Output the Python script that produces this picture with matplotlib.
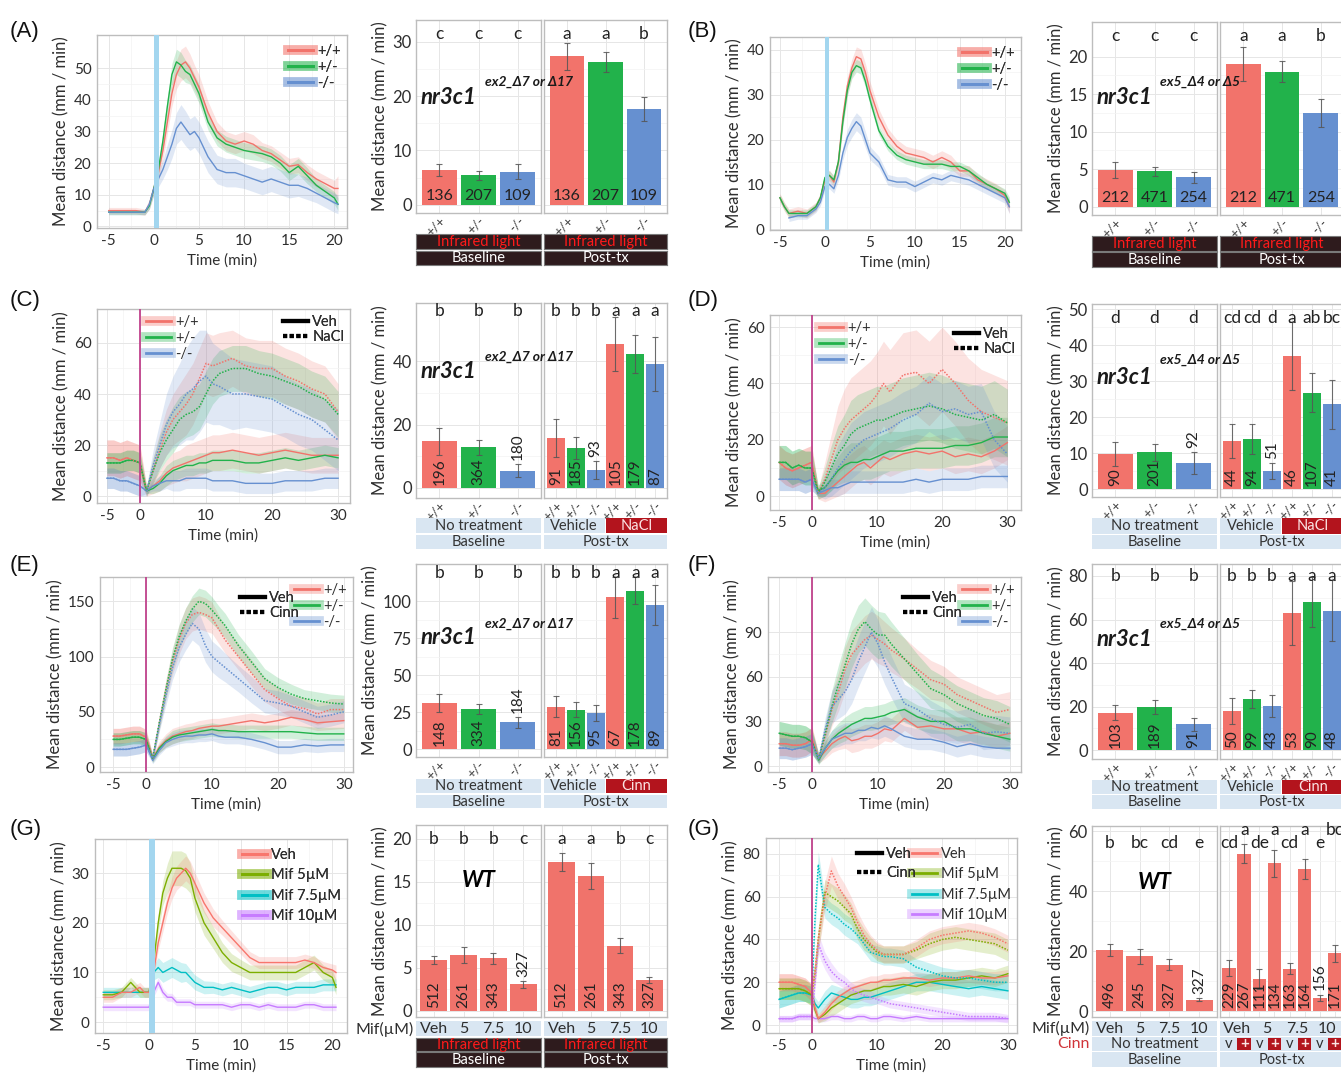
import numpy as np
import matplotlib
matplotlib.use("Agg")
import matplotlib.pyplot as plt
from matplotlib.lines import Line2D
from matplotlib.patches import Rectangle

plt.rcParams['font.family'] = ['Lato', 'DejaVu Sans']
plt.rcParams['axes.unicode_minus'] = False

# ------------------------------------------------------------------ data
geno = ['+/+', '+/-', '-/-']
mif_doses = ['Veh', '5', '7.5', '10']

# ---- (A) time series
tA = [-5, -4, -3, -2, -1, -0.5, 0, 0.5, 1, 1.5, 2, 2.5, 3, 3.5, 4, 4.5, 5, 6, 7, 8, 9, 10,
      11, 12, 13, 14, 15, 16, 17, 18, 19, 20, 20.4]
A_wt = [5, 5, 5, 5, 4.5, 7, 12, 17, 24, 33, 42, 48, 51, 52, 50, 47, 44, 36, 30, 27, 26, 27,
        26, 24, 23, 21, 19, 19.5, 17, 15, 13.5, 12, 12]
A_het = [4.5, 4.5, 4.5, 4.5, 4.5, 6.5, 12, 18, 27, 38, 48, 52, 51, 49, 48, 45, 42, 33, 28, 26,
         25, 24, 23.5, 23, 22, 20, 17, 19, 16, 13, 11, 9, 7]
A_mut = [4.5, 4.5, 4.5, 4.5, 4.5, 7, 12, 15, 18, 22, 26, 31, 33, 31, 29, 30, 28, 22, 18, 17,
         17, 16, 15, 14, 15, 14, 13, 13, 12, 10.5, 9, 7.5, 7]
A_wt_se = [1, 1, 1, 1, 1, 1.5, 2, 2.5, 3, 3.5, 4, 4.5, 5, 5, 4.5, 4, 4, 3.5, 3, 3, 3, 3, 3,
           2.5, 2.5, 2.5, 2.5, 2.5, 2.5, 2.5, 2.5, 2.5, 4]
A_het_se = [0.8, 0.8, 0.8, 0.8, 0.8, 1, 1.5, 2, 2.5, 3, 3.5, 4, 4, 3.5, 3, 3, 3, 2.5, 2.5, 2.5,
            2.5, 2.5, 2.5, 2.5, 2.5, 2.5, 2.5, 2.5, 2.5, 2, 2, 2, 2]
A_mut_se = [0.8, 0.8, 0.8, 0.8, 0.8, 1.5, 2, 2.5, 3, 4, 4.5, 5, 5.5, 5.5, 5, 5, 5, 5, 4.5, 4.5,
            4.5, 4, 4, 4, 4, 4, 4, 3.5, 3.5, 3, 3, 3, 3]

# ---- (B) time series
tB = [-5, -4.5, -4, -3, -2, -1, -0.5, 0, 0.5, 1, 1.5, 2, 2.5, 3, 3.5, 4, 4.5, 5, 6, 7, 8, 9,
      10, 11, 12, 13, 14, 15, 16, 17, 18, 19, 20, 20.5]
B_wt = [7, 5, 3.5, 4, 3.5, 5, 7, 11, 12, 10.5, 15, 25, 32, 36, 38.5, 38, 35, 31, 25, 21, 18.5,
        17, 16.5, 16, 15, 16, 15, 13, 13, 11, 10, 9, 7.5, 5]
B_het = [7, 5, 3.5, 3.5, 3.5, 5, 7, 11.5, 12, 11, 15, 24, 31, 35, 36.5, 36, 33, 29, 22, 18.5,
         16.5, 15.5, 15, 14.5, 14.5, 14.5, 14, 14, 13, 11.5, 10, 9, 8, 6]
B_mut = [np.nan, np.nan, 2.5, 3, 3, 4.5, 6, 9.5, 10, 9, 12, 17, 20.5, 22.5, 24, 23, 20, 17, 15,
         11, 10.5, 10.5, 9.5, 10.5, 11.5, 11, 12, 11.5, 11, 10, 9, 8, 7, 5]
B_wt_se = [1, 1, 1, 1, 1, 1, 1, 1.2, 1.2, 1.2, 1.5, 1.8, 2, 2, 2.2, 2.2, 2, 2, 1.8, 1.5, 1.5,
           1.5, 1.5, 1.5, 1.5, 1.5, 1.5, 1.2, 1.2, 1.2, 1.2, 1.2, 1.2, 1.5]
B_het_se = [0.8, 0.8, 0.8, 0.8, 0.8, 0.8, 0.8, 1, 1, 1, 1, 1.2, 1.3, 1.4, 1.4, 1.4, 1.3, 1.2, 1,
            1, 1, 1, 1, 1, 1, 1, 1, 1, 1, 1, 1, 1, 1, 1.2]
B_mut_se = [0.8, 0.8, 0.8, 0.8, 0.8, 0.8, 0.8, 1, 1, 1, 1.2, 1.5, 1.8, 2, 2, 2, 1.8, 1.5, 1.3,
            1.2, 1.2, 1.2, 1.2, 1.2, 1.2, 1.2, 1.2, 1.2, 1.2, 1.2, 1.2, 1.2, 1.2, 1.5]

# ---- common grid for C-F
tC = [-5, -4, -3, -2, -1, 0, 1, 2, 3, 4, 5, 6, 7, 8, 9, 10, 11, 12, 14, 16, 18, 20, 22, 24, 26, 28, 30]

# ---- (C) Veh / NaCl
C_veh_wt = [15, 15, 14, 15, 14, 13, 2, 4, 6, 9, 11, 12, 13, 14, 15, 16, 17, 17, 18, 17, 16, 17, 18, 17, 16, 16, 16]
C_veh_het = [13, 13, 13, 14, 14, 13, 2, 3, 5, 8, 10, 11, 12, 12, 13, 13, 14, 14, 14, 13, 13, 14, 15, 14, 15, 16, 15]
C_veh_mut = [7, 7, 6, 6, 5, 4, 2, 4, 5, 6, 6, 6, 7, 7, 7, 7, 6, 6, 6, 5, 5, 5, 6, 6, 6, 7, 7]
C_nacl_wt = [15, 15, 14, 15, 14, 13, 2, 10, 18, 25, 30, 33, 36, 40, 46, 52, 51, 52, 54, 51, 50, 50, 47, 45, 42, 40, 33]
C_nacl_het = [13, 13, 13, 14, 14, 13, 2, 10, 17, 22, 26, 30, 32, 33, 35, 40, 45, 48, 50, 50, 48, 47, 45, 43, 40, 38, 32]
C_nacl_mut = [7, 7, 6, 6, 5, 4, 2, 12, 20, 28, 33, 36, 40, 42, 45, 47, 44, 43, 40, 40, 39, 38, 35, 32, 30, 26, 22]
C_veh_wt_se = [7, 7, 7, 7, 7, 7, 2, 3, 4, 5, 6, 6, 7, 7, 7, 7, 7, 7, 7, 7, 7, 7, 7, 7, 7, 7, 7]
C_veh_het_se = [4, 4, 4, 4, 4, 4, 1, 2, 3, 4, 4, 4, 4, 4, 4, 4, 4, 4, 4, 4, 4, 4, 4, 4, 4, 4, 4]
C_veh_mut_se = [4, 4, 4, 4, 4, 4, 1, 2, 3, 3, 4, 4, 4, 4, 4, 4, 4, 4, 4, 4, 4, 4, 4, 4, 4, 4, 4]
C_nacl_wt_se = [7, 7, 7, 7, 7, 7, 2, 5, 7, 9, 10, 11, 12, 12, 12, 12, 12, 12, 11, 11, 11, 11, 11, 11, 11, 11, 11]
C_nacl_het_se = [4, 4, 4, 4, 4, 4, 2, 5, 7, 8, 9, 9, 9, 9, 9, 9, 9, 9, 9, 9, 9, 9, 9, 9, 9, 9, 9]
C_nacl_mut_se = [4, 4, 4, 4, 4, 4, 2, 6, 9, 12, 14, 16, 18, 20, 20, 18, 16, 15, 14, 13, 13, 13, 12, 12, 12, 12, 12]

# ---- (D) Veh / NaCl
D_veh_wt = [12, 10, 9, 10, 11, 12, 1, 1, 3, 5, 7, 9, 11, 12, 10, 12, 14, 13, 15, 16, 15, 16, 14, 15, 14, 16, 19]
D_veh_het = [12, 12, 10, 11, 10, 10, 2, 3, 6, 9, 11, 12, 12, 13, 13, 14, 15, 16, 16, 17, 17, 17, 18, 18, 19, 21, 21]
D_veh_mut = [6, 6, 6, 6, 5, 6, 1, 2, 3, 3, 4, 5, 5, 5, 5, 5, 5, 5, 5, 6, 5, 6, 6, 6, 7, 7, 7]
D_nacl_wt = [12, 10, 9, 10, 11, 12, 1, 6, 13, 20, 24, 27, 29, 31, 33, 36, 40, 37, 43, 44, 40, 45, 40, 34, 30, 28, 26]
D_nacl_het = [12, 12, 10, 11, 10, 10, 1, 5, 10, 15, 18, 22, 24, 25, 26, 27, 27, 28, 30, 31, 32, 31, 29, 28, 27, 29, 26]
D_nacl_mut = [6, 6, 6, 6, 5, 6, 1, 3, 6, 10, 13, 16, 18, 20, 21, 22, 23, 24, 27, 29, 33, 30, 31, 29, 30, 20, 15]
D_veh_wt_se = [6, 6, 6, 6, 6, 6, 2, 3, 4, 5, 6, 6, 6, 6, 6, 6, 6, 6, 6, 6, 6, 6, 6, 6, 6, 6, 6]
D_veh_het_se = [6, 6, 6, 6, 6, 6, 2, 3, 4, 5, 6, 7, 7, 7, 7, 7, 7, 7, 7, 7, 7, 7, 7, 7, 7, 7, 7]
D_veh_mut_se = [4, 4, 4, 4, 4, 4, 1, 2, 3, 3, 3, 4, 4, 4, 4, 4, 4, 4, 4, 4, 4, 4, 4, 4, 4, 4, 4]
D_nacl_wt_se = [6, 6, 6, 6, 6, 6, 2, 6, 9, 12, 14, 15, 15, 15, 15, 15, 15, 15, 15, 15, 15, 15, 15, 15, 15, 15, 15]
D_nacl_het_se = [6, 6, 6, 6, 6, 6, 2, 5, 8, 10, 11, 12, 12, 12, 12, 12, 12, 12, 12, 12, 12, 12, 12, 12, 12, 12, 12]
D_nacl_mut_se = [4, 4, 4, 4, 4, 4, 1, 4, 6, 8, 9, 10, 10, 10, 10, 10, 10, 10, 10, 10, 10, 10, 10, 10, 10, 10, 10]

# ---- (E) Veh / Cinn
E_veh_wt = [28, 28, 29, 30, 30, 27, 8, 18, 24, 28, 30, 32, 33, 35, 36, 37, 37, 38, 40, 42, 40, 42, 45, 43, 40, 41, 42]
E_veh_het = [25, 25, 26, 27, 27, 25, 7, 17, 23, 27, 29, 30, 31, 32, 33, 34, 33, 33, 32, 32, 32, 32, 32, 31, 30, 30, 30]
E_veh_mut = [16, 16, 16, 17, 18, 20, 6, 15, 22, 25, 27, 28, 28, 29, 29, 30, 28, 27, 27, 25, 22, 18, 18, 20, 19, 20, 20]
E_cinn_wt = [28, 28, 29, 30, 30, 27, 8, 40, 70, 95, 115, 130, 138, 140, 138, 135, 125, 115, 100, 85, 70, 62, 55, 53, 48, 52, 52]
E_cinn_het = [25, 25, 26, 27, 27, 25, 8, 40, 70, 98, 118, 132, 143, 150, 148, 142, 135, 128, 110, 95, 80, 72, 66, 62, 60, 58, 57]
E_cinn_mut = [16, 16, 16, 17, 18, 20, 8, 38, 65, 90, 108, 120, 130, 125, 110, 100, 95, 90, 80, 70, 60, 58, 55, 50, 45, 47, 50]
E_veh_wt_se = [7, 7, 7, 7, 7, 7, 3, 5, 6, 7, 7, 7, 7, 7, 7, 7, 7, 7, 7, 7, 7, 7, 7, 7, 7, 7, 7]
E_veh_het_se = [6, 6, 6, 6, 6, 6, 3, 4, 5, 6, 6, 6, 6, 6, 6, 6, 6, 6, 6, 6, 6, 6, 6, 6, 6, 6, 6]
E_veh_mut_se = [6, 6, 6, 6, 6, 6, 3, 4, 5, 6, 6, 6, 6, 6, 6, 6, 6, 6, 6, 6, 6, 6, 6, 6, 6, 6, 6]
E_cinn_wt_se = [7, 7, 7, 7, 7, 7, 3, 6, 9, 11, 13, 14, 15, 15, 15, 14, 13, 12, 12, 12, 11, 10, 10, 10, 10, 10, 10]
E_cinn_het_se = [6, 6, 6, 6, 6, 6, 3, 6, 8, 10, 11, 12, 12, 12, 12, 12, 11, 11, 10, 10, 9, 9, 9, 8, 8, 8, 8]
E_cinn_mut_se = [6, 6, 6, 6, 6, 6, 3, 6, 9, 11, 13, 14, 15, 15, 15, 14, 14, 13, 12, 12, 11, 11, 10, 10, 10, 10, 10]

# ---- (F) Veh / Cinn
F_veh_wt = [15, 15, 14, 14, 15, 18, 5, 10, 15, 18, 20, 17, 18, 20, 20, 22, 25, 24, 32, 26, 27, 25, 25, 22, 23, 20, 22]
F_veh_het = [22, 21, 20, 20, 19, 16, 4, 12, 18, 22, 25, 28, 30, 32, 32, 33, 34, 36, 38, 33, 30, 30, 25, 25, 22, 20, 18]
F_veh_mut = [12, 12, 11, 12, 13, 15, 5, 12, 18, 20, 22, 22, 24, 24, 26, 25, 27, 25, 20, 18, 18, 16, 13, 15, 13, 12, 12]
F_cinn_wt = [15, 15, 14, 14, 15, 18, 5, 20, 38, 50, 65, 75, 80, 85, 88, 85, 82, 78, 72, 65, 58, 55, 48, 44, 40, 36, 38]
F_cinn_het = [22, 21, 20, 20, 19, 16, 5, 22, 40, 55, 68, 82, 92, 97, 92, 88, 88, 82, 72, 62, 52, 48, 42, 38, 34, 32, 28]
F_cinn_mut = [12, 12, 11, 12, 13, 15, 5, 25, 40, 45, 50, 58, 70, 80, 90, 82, 70, 60, 42, 38, 32, 28, 26, 28, 22, 23, 22]
F_veh_wt_se = [8, 8, 8, 8, 8, 8, 3, 5, 6, 7, 8, 8, 8, 8, 8, 8, 8, 8, 8, 8, 8, 8, 8, 8, 8, 8, 8]
F_veh_het_se = [8, 8, 8, 8, 8, 8, 3, 5, 6, 7, 8, 8, 8, 8, 8, 8, 8, 8, 8, 8, 8, 8, 8, 8, 8, 8, 8]
F_veh_mut_se = [7, 7, 7, 7, 7, 7, 3, 5, 6, 7, 7, 7, 7, 7, 7, 7, 7, 7, 7, 7, 7, 7, 7, 7, 7, 7, 7]
F_cinn_wt_se = [8, 8, 8, 8, 8, 8, 3, 8, 11, 13, 15, 16, 16, 16, 16, 16, 15, 15, 14, 13, 13, 12, 12, 12, 12, 12, 12]
F_cinn_het_se = [8, 8, 8, 8, 8, 8, 3, 8, 11, 13, 15, 16, 16, 16, 16, 16, 15, 15, 14, 13, 13, 12, 12, 12, 12, 12, 12]
F_cinn_mut_se = [7, 7, 7, 7, 7, 7, 3, 8, 11, 13, 15, 16, 17, 17, 17, 16, 15, 14, 13, 12, 12, 11, 11, 11, 11, 11, 11]

# ---- (G, left) mifepristone, infrared light
G1_veh = [5, 5, 6, 6, 7, 6, 6, 10, 16, 20, 24, 27, 29, 30, 31, 30, 28, 24, 21, 19, 17, 15, 13,
          12, 12, 12, 12, 12, 12.5, 12, 11, 10.5, 10]
G1_m5 = [5.5, 5.5, 6, 8, 6, 6, 6, 12, 20, 26, 29, 31, 31, 31, 30.5, 29, 25, 20, 17, 14, 12, 11,
         10, 10, 10, 10, 10, 10, 11, 12, 10, 9, 7]
G1_m75 = [6, 6, 6, 6, 6, 6, 6, 10, 11, 10, 10.5, 11, 10.5, 10, 10, 9, 8, 7, 7, 6.5, 7, 6.5, 6,
          6.5, 7, 7, 6.5, 7, 7, 7, 7.5, 7.5, 7.5]
G1_m10 = [3, 3, 3, 3, 3, 3, 3, 6, 8, 6, 5, 5, 4, 4, 4, 4, 3.5, 3.5, 3.5, 3.5, 3, 3.5, 3.5, 3,
          3.5, 3, 3, 3, 3.5, 3.5, 3, 3, 3]
G1_veh_se = [1, 1, 1, 1, 1, 1, 1, 1.2, 1.5, 1.8, 2, 2.2, 2.4, 2.5, 2.5, 2.4, 2.2, 2, 1.8, 1.5,
             1.4, 1.3, 1.2, 1.2, 1.2, 1.2, 1.2, 1.2, 1.2, 1.2, 1.2, 1.2, 1.5]
G1_m5_se = [1, 1, 1, 1, 1, 1, 1, 1.5, 2, 2.5, 3, 3.5, 3.5, 3.5, 3.5, 3, 2.8, 2.5, 2.2, 2, 1.8,
            1.6, 1.5, 1.5, 1.5, 1.5, 1.5, 1.5, 1.5, 1.5, 1.5, 1.5, 1.5]
G1_m75_se = [1, 1, 1, 1, 1, 1, 1, 1.5, 2, 2, 2, 2, 2, 2, 1.8, 1.6, 1.5, 1.3, 1.2, 1.2, 1.2, 1.2,
             1.2, 1.2, 1.2, 1.2, 1.2, 1.2, 1.2, 1.2, 1.2, 1.2, 1.2]
G1_m10_se = [0.7, 0.7, 0.7, 0.7, 0.7, 0.7, 0.7, 0.9, 1, 0.9, 0.8, 0.8, 0.7, 0.7, 0.7, 0.7, 0.7,
             0.7, 0.7, 0.7, 0.7, 0.7, 0.7, 0.7, 0.7, 0.7, 0.7, 0.7, 0.7, 0.7, 0.7, 0.7, 0.7]

# ---- (G, right) mifepristone, Veh / Cinn
tG2 = [-5, -4, -3, -2, -1, 0, 0.5, 1, 2, 3, 4, 5, 6, 7, 8, 9, 10, 11, 12, 14, 16, 18, 20, 22, 24, 26, 28, 30]
G2_veh_veh = [20, 20, 20, 19, 18, 15, 8, 3, 6, 10, 13, 15, 17, 18, 19, 20, 20, 21, 21, 22, 22, 21, 22, 22, 23, 22, 22, 23]
G2_veh_m5 = [17, 17, 17, 17, 16, 14, 7, 3, 5, 8, 10, 12, 14, 15, 16, 16, 17, 18, 18, 19, 18, 20, 21, 21, 22, 23, 22, 24]
G2_veh_m75 = [12, 13, 14, 15, 15, 14, 10, 8, 12, 15, 14, 13, 12, 12, 13, 13, 14, 15, 16, 18, 20, 20, 19, 18, 17, 18, 17, 16]
G2_veh_m10 = [3, 3, 3, 4, 4, 4, 3, 3, 3, 4, 4, 3, 3, 4, 4, 3, 3, 4, 4, 3, 4, 3, 3, 3, 3, 3, 3, 3]
G2_cinn_veh = [20, 20, 20, 19, 18, 15, 25, 40, 60, 72, 65, 60, 55, 48, 42, 38, 35, 33, 33, 33, 36, 40, 42, 43, 44, 43, 41, 38]
G2_cinn_m5 = [17, 17, 17, 17, 16, 14, 25, 40, 62, 60, 58, 55, 52, 45, 40, 37, 34, 33, 33, 33, 35, 38, 40, 41, 40, 39, 38, 35]
G2_cinn_m75 = [12, 13, 14, 15, 15, 14, 50, 75, 55, 52, 50, 47, 45, 42, 38, 34, 33, 32, 32, 31, 27, 25, 23, 22, 22, 21, 20, 20]
G2_cinn_m10 = [3, 3, 3, 4, 4, 4, 20, 38, 30, 25, 22, 20, 17, 15, 14, 13, 12, 11, 10, 9, 8, 7, 6, 5, 4, 4, 4, 3]
G2_veh_veh_se = [4, 4, 4, 4, 4, 4, 3, 2, 3, 3, 3, 3, 3, 3, 3, 3, 3, 3, 3, 3, 3, 3, 3, 3, 3, 3, 3, 3]
G2_veh_m5_se = [5, 5, 5, 5, 5, 5, 3, 2, 3, 4, 4, 4, 4, 4, 4, 4, 4, 4, 4, 4, 4, 4, 4, 4, 4, 4, 4, 4]
G2_veh_m75_se = [4, 4, 4, 4, 4, 4, 3, 3, 4, 4, 4, 4, 4, 4, 4, 4, 4, 4, 4, 4, 4, 4, 4, 4, 4, 4, 4, 4]
G2_veh_m10_se = [1.5, 1.5, 1.5, 1.5, 1.5, 1.5, 1.5, 1.5, 1.5, 1.5, 1.5, 1.5, 1.5, 1.5, 1.5, 1.5, 1.5, 1.5, 1.5, 1.5, 1.5, 1.5, 1.5, 1.5, 1.5, 1.5, 1.5, 1.5]
G2_cinn_veh_se = [4, 4, 4, 4, 4, 4, 5, 6, 7, 7, 6, 6, 5, 5, 5, 4, 4, 4, 4, 4, 4, 4, 4, 4, 4, 4, 4, 4]
G2_cinn_m5_se = [5, 5, 5, 5, 5, 5, 5, 6, 6, 6, 6, 6, 5, 5, 5, 4, 4, 4, 4, 4, 4, 5, 5, 5, 5, 5, 5, 5]
G2_cinn_m75_se = [4, 4, 4, 4, 4, 4, 6, 6, 5, 5, 5, 5, 5, 4, 4, 4, 4, 4, 4, 4, 4, 4, 4, 4, 4, 4, 4, 4]
G2_cinn_m10_se = [1.5, 1.5, 1.5, 1.5, 1.5, 1.5, 4, 5, 4, 4, 3, 3, 3, 3, 3, 3, 2, 2, 2, 2, 2, 2, 2, 2, 2, 2, 2, 2]

# ---- bar charts
A_base = [6.4, 5.4, 6.1];   A_base_err = [1.1, 0.9, 1.4]; A_base_n = [136, 207, 109]; A_base_let = ['c', 'c', 'c']
A_post = [27.3, 26.3, 17.6]; A_post_err = [2.5, 1.9, 2.2]; A_post_n = [136, 207, 109]; A_post_let = ['a', 'a', 'b']

B_base = [4.9, 4.7, 3.9];   B_base_err = [1.1, 0.6, 0.7]; B_base_n = [212, 471, 254]; B_base_let = ['c', 'c', 'c']
B_post = [19.0, 18.0, 12.5]; B_post_err = [2.3, 1.4, 1.9]; B_post_n = [212, 471, 254]; B_post_let = ['a', 'a', 'b']

C_base = [14.7, 12.8, 5.5]; C_base_err = [4.2, 2.5, 1.9]; C_base_n = [196, 364, 180]
C_base_above = [False, False, True]; C_base_let = ['b', 'b', 'b']
C_post = [15.9, 12.6, 5.6, 45.5, 42.4, 39.2]; C_post_err = [6.0, 3.6, 2.8, 8.5, 6.0, 8.5]
C_post_n = [91, 185, 93, 105, 179, 87]; C_post_above = [False, False, True, False, False, False]
C_post_let = ['b', 'b', 'b', 'a', 'a', 'a']

D_base = [9.8, 10.2, 7.2]; D_base_err = [3.3, 2.3, 3.0]; D_base_n = [90, 201, 92]
D_base_above = [False, False, True]; D_base_let = ['d', 'd', 'd']
D_post = [13.4, 13.9, 5.0, 37.0, 26.8, 23.5]; D_post_err = [4.7, 4.2, 2.3, 9.5, 5.3, 6.8]
D_post_n = [44, 94, 51, 46, 107, 41]; D_post_above = [False, False, True, False, False, False]
D_post_let = ['cd', 'cd', 'd', 'a', 'ab', 'bc']

E_base = [31.0, 27.0, 18.0]; E_base_err = [6.0, 3.5, 3.5]; E_base_n = [148, 334, 184]
E_base_above = [False, False, True]; E_base_let = ['b', 'b', 'b']
E_post = [28.5, 26.5, 24.5, 102.5, 107.0, 97.0]; E_post_err = [7.0, 5.0, 5.5, 14.0, 9.0, 13.5]
E_post_n = [81, 156, 95, 67, 178, 89]; E_post_above = [False] * 6
E_post_let = ['b', 'b', 'b', 'a', 'a', 'a']

F_base = [17.3, 19.8, 12.0]; F_base_err = [3.3, 3.3, 3.0]; F_base_n = [103, 189, 91]
F_base_above = [False, False, False]; F_base_let = ['b', 'b', 'b']
F_post = [18.0, 23.5, 20.3, 63.0, 68.0, 64.0]; F_post_err = [6.0, 4.0, 5.0, 14.5, 11.5, 14.0]
F_post_n = [50, 99, 43, 53, 90, 48]; F_post_above = [False] * 6
F_post_let = ['b', 'b', 'b', 'a', 'a', 'a']

G1_base = [5.9, 6.5, 6.1, 3.1]; G1_base_err = [0.5, 0.9, 0.6, 0.4]; G1_base_n = [512, 261, 343, 327]
G1_base_above = [False, False, False, True]; G1_base_let = ['b', 'b', 'b', 'c']
G1_post = [17.3, 15.7, 7.6, 3.6]; G1_post_err = [1.1, 1.5, 0.9, 0.4]; G1_post_n = [512, 261, 343, 327]
G1_post_above = [False, False, False, False]; G1_post_let = ['a', 'a', 'b', 'c']

G2_base = [20.3, 18.2, 15.4, 3.8]; G2_base_err = [2.0, 2.6, 1.8, 0.6]; G2_base_n = [496, 245, 327, 327]
G2_base_above = [False, False, False, True]; G2_base_let = ['b', 'bc', 'cd', 'e']
G2_post = [14.3, 52.5, 10.6, 49.2, 14.1, 47.3, 4.4, 19.2]
G2_post_err = [2.6, 3.3, 3.4, 4.5, 1.9, 3.4, 1.1, 2.7]
G2_post_n = [229, 267, 111, 134, 163, 164, 156, 171]
G2_post_above = [False, False, False, False, False, False, True, False]
G2_post_let = ['cd', 'a', 'de', 'a', 'cd', 'a', 'e', 'bc']
G2_post_cinn = [False, True, False, True, False, True, False, True]

# ------------------------------------------------------------------ style
W, H = 1341, 1079
fig = plt.figure(figsize=(W / 100, H / 100), dpi=100)

C_WT, C_HET, C_MUT = '#F2736B', '#22B24B', '#6690D0'
C_VEH, C_M5, C_M75, C_M10 = '#F8766D', '#7CAE00', '#00BFC4', '#C77CFF'
BAR_RED = '#F0736B'
FRAME = '#BDBDBD'
DARK, LIGHT, TREAT = '#2E1B1D', '#D9E6F2', '#B3141D'
TXT = '#2E2E2E'
NARROW = ['Liberation Sans Narrow', 'Lato', 'DejaVu Sans']


def ax_px(x0, y0, x1, y1):
    return fig.add_axes([x0 / W, 1 - y1 / H, (x1 - x0) / W, (y1 - y0) / H])


def mids(ticks):
    t = list(ticks)
    return [(a + b) / 2 for a, b in zip(t[:-1], t[1:])]


def frame(ax):
    for sp in ax.spines.values():
        sp.set_color(FRAME)
        sp.set_linewidth(1.0)


def line_panel(box, t, series, xlim, ylim, xticks, yticks, band=None, vline=False):
    ax = ax_px(*box)
    t = np.asarray(t, float)
    for m, s, c, ls in series:
        m = np.asarray(m, float)
        s = np.asarray(s, float)
        ax.fill_between(t, m - s, m + s, color=c, alpha=0.2, lw=0, zorder=1)
        if ls == 'dot':
            ax.plot(t, m, color=c, lw=1.1, ls=(0, (1, 1)), zorder=2)
        else:
            ax.plot(t, m, color=c, lw=1.0, zorder=2)
    if band is not None:
        ax.axvspan(band[0], band[1], color='#A3D6EF', lw=0, zorder=3)
    if vline:
        ax.axvline(0, color='#C0428C', lw=1.3, zorder=3)
    ax.set_xlim(xlim)
    ax.set_ylim(ylim)
    ax.set_xticks(xticks)
    ax.set_yticks(yticks)
    ax.set_xticks(mids(xticks), minor=True)
    ax.set_yticks(mids(yticks), minor=True)
    ax.grid(True, which='major', color='#E6E6E6', lw=0.7)
    ax.grid(True, which='minor', color='#F3F3F3', lw=0.5)
    ax.set_axisbelow(True)
    frame(ax)
    ax.tick_params(which='both', length=0, labelsize=11, labelcolor=TXT, pad=4)
    ax.set_xlabel('Time (min)', fontsize=11, color=TXT, labelpad=4)
    ax.set_ylabel('Mean distance (mm / min)', fontsize=12, color=TXT, labelpad=3)
    return ax


def geno_handles(colors):
    return [(Line2D([], [], color=c, lw=7, alpha=0.35), Line2D([], [], color=c, lw=2))
            for c in colors]


def lt_handles():
    return [Line2D([], [], color='black', lw=3), Line2D([], [], color='black', lw=3, ls=(0, (1, 0.6)))]


def legend(ax, handles, labels, loc, anchor, spacing=0.15, fs=10.5):
    lg = ax.legend(handles, labels, loc=loc, bbox_to_anchor=anchor, frameon=False,
                   fontsize=fs, handlelength=1.7, handletextpad=0.3, labelspacing=spacing,
                   borderaxespad=0.2, borderpad=0.2)
    for tx in lg.get_texts():
        tx.set_color(TXT)
    ax.add_artist(lg)
    return lg


def bar_facet(box, means, errs, ns, above, colors, ylim, yticks, letters, let_y,
              xlabels=None, first=True, rot=True):
    ax = ax_px(*box)
    n = len(means)
    x = np.arange(n)
    ax.bar(x, means, width=0.9, color=colors, zorder=2)
    ax.errorbar(x, means, yerr=errs, fmt='none', ecolor='#555555', elinewidth=0.8,
                capsize=2.5, capthick=0.8, alpha=0.85, zorder=3)
    ax.set_xlim(-0.6, n - 0.4)
    ax.set_ylim(ylim)
    ax.set_yticks(yticks)
    ax.set_yticks(mids(yticks), minor=True)
    ax.set_xticks(x)
    ax.grid(True, which='major', color='#E6E6E6', lw=0.7)
    ax.grid(True, which='minor', axis='y', color='#F3F3F3', lw=0.5)
    ax.set_axisbelow(True)
    frame(ax)
    ax.tick_params(which='both', length=0, labelsize=12, labelcolor=TXT, pad=3)
    if xlabels is not None:
        ax.set_xticklabels(xlabels, rotation=45, ha='right', rotation_mode='anchor',
                           fontsize=9.5, color='#444444')
        ax.tick_params(axis='x', pad=1)
    else:
        ax.set_xticklabels([])
    if first:
        ax.set_ylabel('Mean distance (mm / min)', fontsize=12, color=TXT, labelpad=3)
    else:
        ax.set_yticklabels([])
    for xi, m, e, nn, ab in zip(x, means, errs, ns, above):
        if rot:
            if ab:
                ax.annotate(str(nn), (xi, m + e), xytext=(0, 3), textcoords='offset points',
                            rotation=90, ha='center', va='bottom', fontsize=11, color='#222222')
            else:
                ax.annotate(str(nn), (xi, 0), xytext=(0, 2), textcoords='offset points',
                            rotation=90, ha='center', va='bottom', fontsize=11, color='#222222')
        else:
            ax.annotate(str(nn), (xi, 0), xytext=(0, 1), textcoords='offset points',
                        ha='center', va='bottom', fontsize=11.5, color='#222222')
    if np.ndim(let_y) == 0:
        let_y = [let_y] * n
    for xi, l, ly in zip(x, letters, let_y):
        ax.text(xi, ly, l, ha='center', va='center', fontsize=12.5, color='#222222')
    return ax


def strip(x0, y0, x1, y1, text='', bg=LIGHT, fg='#333333', fs=10.5, edge=None):
    a = ax_px(x0, y0, x1, y1)
    a.set_facecolor(bg)
    a.set_xticks([])
    a.set_yticks([])
    for sp in a.spines.values():
        if edge:
            sp.set_color(edge)
            sp.set_linewidth(0.8)
        else:
            sp.set_visible(False)
    if text:
        a.text(0.5, 0.47, text, color=fg, ha='center', va='center', fontsize=fs,
               transform=a.transAxes)
    return a


def gene_label(gx, gy, sup, sx, sy):
    fig.text(gx / W, 1 - gy / H, 'nr3c1', fontsize=16, fontweight='bold',
             style='italic', ha='left', va='center', color='#1A1A1A')
    fig.text(sx / W, 1 - sy / H, sup, fontsize=10, fontweight='bold', family=NARROW,
             style='italic', ha='left', va='center', color='#1A1A1A')


def panel_letter(x, y, s):
    fig.text(x / W, 1 - y / H, s, fontsize=16, family=['Liberation Sans', 'DejaVu Sans'],
             ha='left', va='center', color='#111111')


gcol3 = [C_WT, C_HET, C_MUT]
gcol6 = gcol3 + gcol3

# ================================================================== (A)
ax = line_panel((97, 35, 347, 228), tA,
                [(A_wt, A_wt_se, C_WT, '-'), (A_het, A_het_se, C_HET, '-'), (A_mut, A_mut_se, C_MUT, '-')],
                (-6.3, 21.4), (-0.5, 60.5), [-5, 0, 5, 10, 15, 20], [0, 10, 20, 30, 40, 50], band=(0, 0.55))
legend(ax, geno_handles(gcol3), geno, 'upper right', (1.0, 0.985))
bar_facet((416, 20, 541, 213), A_base, A_base_err, A_base_n, [False] * 3, gcol3,
          (-1.5, 34), [0, 10, 20, 30], A_base_let, 31.5, xlabels=geno, rot=False)
gene_label(421, 98, 'ex2_Δ7 or Δ17', 485, 82)
bar_facet((544, 20, 667, 213), A_post, A_post_err, A_post_n, [False] * 3, gcol3,
          (-1.5, 34), [0, 10, 20, 30], A_post_let, 31.5, xlabels=geno, first=False, rot=False)
for x0, x1, lab in [(416, 541, 'Baseline'), (544, 667, 'Post-tx')]:
    strip(x0, 234, x1, 249, 'Infrared light', DARK, '#FF1A1A', edge='#7A7A7A')
    strip(x0, 251, x1, 265, lab, DARK, 'white', edge='#7A7A7A')
panel_letter(10, 31, '(A)')

# ================================================================== (B)
ax = line_panel((770, 37, 1021, 230), tB,
                [(B_wt, B_wt_se, C_WT, '-'), (B_het, B_het_se, C_HET, '-'), (B_mut, B_mut_se, C_MUT, '-')],
                (-6.1, 21.8), (-0.2, 42.9), [-5, 0, 5, 10, 15, 20], [0, 10, 20, 30, 40], band=(0, 0.5))
legend(ax, geno_handles(gcol3), geno, 'upper right', (1.0, 0.985))
bar_facet((1092, 22, 1217, 215), B_base, B_base_err, B_base_n, [False] * 3, gcol3,
          (-1.1, 24.6), [0, 5, 10, 15, 20], B_base_let, 22.8, xlabels=geno, rot=False)
gene_label(1097, 98, 'ex5_Δ4 or Δ5', 1160, 82)
bar_facet((1220, 22, 1344, 215), B_post, B_post_err, B_post_n, [False] * 3, gcol3,
          (-1.1, 24.6), [0, 5, 10, 15, 20], B_post_let, 22.8, xlabels=geno, first=False, rot=False)
for x0, x1, lab in [(1092, 1217, 'Baseline'), (1220, 1344, 'Post-tx')]:
    strip(x0, 236, x1, 251, 'Infrared light', DARK, '#FF1A1A', edge='#7A7A7A')
    strip(x0, 252, x1, 267, lab, DARK, 'white', edge='#7A7A7A')
panel_letter(688, 31, '(B)')


def treat_row(f1, f2, y0, y1, y2, y3, treat):
    strip(f1[0], y0, f1[1], y1, 'No treatment')
    # boundary between 3rd and 4th bar of the 6-bar facet
    xb = f2[0] + (2.5 + 0.6) / 6.2 * (f2[1] - f2[0])
    strip(f2[0], y0, xb - 1, y1, 'Vehicle')
    strip(xb, y0, f2[1], y1, treat, TREAT, '#FBE3E3')
    strip(f1[0], y2, f1[1], y3, 'Baseline')
    strip(f2[0], y2, f2[1], y3, 'Post-tx')


# ================================================================== (C)
ax = line_panel((97, 309, 350, 503), tC,
                [(C_veh_wt, C_veh_wt_se, C_WT, '-'), (C_veh_het, C_veh_het_se, C_HET, '-'),
                 (C_veh_mut, C_veh_mut_se, C_MUT, '-'),
                 (C_nacl_wt, C_nacl_wt_se, C_WT, 'dot'), (C_nacl_het, C_nacl_het_se, C_HET, 'dot'),
                 (C_nacl_mut, C_nacl_mut_se, C_MUT, 'dot')],
                (-6.5, 31.8), (-2.7, 73.3), [-5, 0, 10, 20, 30], [0, 20, 40, 60], vline=True)
legend(ax, geno_handles(gcol3), geno, 'upper left', (0.17, 1.0))
legend(ax, lt_handles(), ['Veh', 'NaCl'], 'upper right', (1.0, 1.0), spacing=0.1)
bar_facet((416, 303, 541, 498), C_base, C_base_err, C_base_n, C_base_above, gcol3,
          (-3.2, 58.5), [0, 20, 40], C_base_let, 56, xlabels=geno)
gene_label(421, 371, 'ex2_Δ7 or Δ17', 485, 357)
bar_facet((544, 303, 667, 498), C_post, C_post_err, C_post_n, C_post_above, gcol6,
          (-3.2, 58.5), [0, 20, 40], C_post_let, 56, xlabels=geno + geno, first=False)
treat_row((416, 541), (544, 667), 518, 533, 535, 549, 'NaCl')
panel_letter(10, 300, '(C)')

# ================================================================== (D)
ax = line_panel((770, 315, 1021, 510), tC,
                [(D_veh_wt, D_veh_wt_se, C_WT, '-'), (D_veh_het, D_veh_het_se, C_HET, '-'),
                 (D_veh_mut, D_veh_mut_se, C_MUT, '-'),
                 (D_nacl_wt, D_nacl_wt_se, C_WT, 'dot'), (D_nacl_het, D_nacl_het_se, C_HET, 'dot'),
                 (D_nacl_mut, D_nacl_mut_se, C_MUT, 'dot')],
                (-6.4, 32.1), (-4.9, 64.3), [-5, 0, 10, 20, 30], [0, 20, 40, 60], vline=True)
legend(ax, geno_handles(gcol3), geno, 'upper left', (0.17, 1.0))
legend(ax, lt_handles(), ['Veh', 'NaCl'], 'upper right', (1.0, 0.97), spacing=0.1)
bar_facet((1092, 304, 1217, 497), D_base, D_base_err, D_base_n, D_base_above, gcol3,
          (-2.2, 51.4), [0, 10, 20, 30, 40, 50], D_base_let, 47.5, xlabels=geno)
gene_label(1097, 377, 'ex5_Δ4 or Δ5', 1160, 360)
bar_facet((1220, 304, 1344, 497), D_post, D_post_err, D_post_n, D_post_above, gcol6,
          (-2.2, 51.4), [0, 10, 20, 30, 40, 50], D_post_let, 47.5, xlabels=geno + geno, first=False)
treat_row((1092, 1217), (1220, 1344), 518, 534, 535, 549, 'NaCl')
panel_letter(688, 300, '(D)')

# ================================================================== (E)
ax = line_panel((100, 577, 353, 772), tC,
                [(E_veh_wt, E_veh_wt_se, C_WT, '-'), (E_veh_het, E_veh_het_se, C_HET, '-'),
                 (E_veh_mut, E_veh_mut_se, C_MUT, '-'),
                 (E_cinn_wt, E_cinn_wt_se, C_WT, 'dot'), (E_cinn_het, E_cinn_het_se, C_HET, 'dot'),
                 (E_cinn_mut, E_cinn_mut_se, C_MUT, 'dot')],
                (-7.0, 31.4), (-4.5, 172), [-5, 0, 10, 20, 30], [0, 50, 100, 150], vline=True)
legend(ax, geno_handles(gcol3), geno, 'upper right', (1.0, 1.0))
legend(ax, lt_handles(), ['Veh', 'Cinn'], 'upper right', (0.81, 0.96), spacing=0.1)
bar_facet((416, 564, 541, 757), E_base, E_base_err, E_base_n, E_base_above, gcol3,
          (-5.4, 125), [0, 25, 50, 75, 100], E_base_let, 119, xlabels=geno)
gene_label(421, 638, 'ex2_Δ7 or Δ17', 485, 624)
bar_facet((544, 564, 667, 757), E_post, E_post_err, E_post_n, E_post_above, gcol6,
          (-5.4, 125), [0, 25, 50, 75, 100], E_post_let, 119, xlabels=geno + geno, first=False)
treat_row((416, 541), (544, 667), 779, 793, 795, 808, 'Cinn')
panel_letter(10, 566, '(E)')

# ================================================================== (F)
ax = line_panel((768, 577, 1021, 772), tC,
                [(F_veh_wt, F_veh_wt_se, C_WT, '-'), (F_veh_het, F_veh_het_se, C_HET, '-'),
                 (F_veh_mut, F_veh_mut_se, C_MUT, '-'),
                 (F_cinn_wt, F_cinn_wt_se, C_WT, 'dot'), (F_cinn_het, F_cinn_het_se, C_HET, 'dot'),
                 (F_cinn_mut, F_cinn_mut_se, C_MUT, 'dot')],
                (-6.7, 31.7), (-4, 127), [-5, 0, 10, 20, 30], [0, 30, 60, 90], vline=True)
legend(ax, geno_handles(gcol3), geno, 'upper right', (1.0, 1.0))
legend(ax, lt_handles(), ['Veh', 'Cinn'], 'upper right', (0.79, 0.96), spacing=0.1)
bar_facet((1092, 564, 1217, 759), F_base, F_base_err, F_base_n, F_base_above, gcol3,
          (-4, 85.5), [0, 20, 40, 60, 80], F_base_let, 80, xlabels=geno)
gene_label(1097, 639, 'ex5_Δ4 or Δ5', 1160, 624)
bar_facet((1220, 564, 1344, 759), F_post, F_post_err, F_post_n, F_post_above, gcol6,
          (-4, 85.5), [0, 20, 40, 60, 80], F_post_let, 80, xlabels=geno + geno, first=False)
treat_row((1092, 1217), (1220, 1344), 780, 794, 795, 809, 'Cinn')
panel_letter(688, 566, '(F)')

# ================================================================== (G, left)
ax = line_panel((95, 839, 347, 1033), tA,
                [(G1_m10, G1_m10_se, C_M10, '-'), (G1_m75, G1_m75_se, C_M75, '-'),
                 (G1_m5, G1_m5_se, C_M5, '-'), (G1_veh, G1_veh_se, C_VEH, '-')],
                (-5.9, 21.6), (-2.2, 36.9), [-5, 0, 5, 10, 15, 20], [0, 10, 20, 30], band=(0, 0.6))
mif_names = ['Veh', 'Mif 5µM', 'Mif 7.5µM', 'Mif 10µM']
legend(ax, geno_handles([C_VEH, C_M5, C_M75, C_M10]), mif_names, 'upper right', (1.0, 0.985),
       spacing=0.45)
b1 = bar_facet((416, 825, 541, 1017), G1_base, G1_base_err, G1_base_n, G1_base_above, [BAR_RED] * 4,
               (-0.7, 21.6), [0, 5, 10, 15, 20], G1_base_let, 20)
b1.text(1.5, 15.2, 'WT', fontsize=16, fontweight='bold', style='italic', ha='center', va='center')
bar_facet((544, 825, 667, 1017), G1_post, G1_post_err, G1_post_n, G1_post_above, [BAR_RED] * 4,
          (-0.7, 21.6), [0, 5, 10, 15, 20], G1_post_let, 20, first=False)
for x0, x1, lab in [(416, 541, 'Baseline'), (544, 667, 'Post-tx')]:
    m = strip(x0, 1021, x1, 1036)
    m.set_xlim(-0.6, 3.6)
    for i, d in enumerate(mif_doses):
        m.text(i, 0.45, d, ha='center', va='center', fontsize=11.5, color=TXT,
               transform=m.get_xaxis_transform())
    strip(x0, 1038, x1, 1051, 'Infrared light', DARK, '#FF1A1A', edge='#7A7A7A')
    strip(x0, 1052, x1, 1067, lab, DARK, 'white', edge='#7A7A7A')
fig.text(414 / W, 1 - 1029 / H, 'Mif(µM)', ha='right', va='center', fontsize=11.5, color=TXT)
panel_letter(10, 830, '(G)')

# ================================================================== (G, right)
ax = line_panel((766, 838, 1017, 1033), tG2,
                [(G2_veh_m10, G2_veh_m10_se, C_M10, '-'), (G2_veh_m75, G2_veh_m75_se, C_M75, '-'),
                 (G2_veh_m5, G2_veh_m5_se, C_M5, '-'), (G2_veh_veh, G2_veh_veh_se, C_VEH, '-'),
                 (G2_cinn_m10, G2_cinn_m10_se, C_M10, 'dot'), (G2_cinn_m75, G2_cinn_m75_se, C_M75, 'dot'),
                 (G2_cinn_m5, G2_cinn_m5_se, C_M5, 'dot'), (G2_cinn_veh, G2_cinn_veh_se, C_VEH, 'dot')],
                (-7.0, 31.4), (-3.7, 87.4), [-5, 0, 10, 20, 30], [0, 20, 40, 60, 80], vline=True)
legend(ax, geno_handles([C_VEH, C_M5, C_M75, C_M10]), mif_names, 'upper right', (1.0, 0.985),
       spacing=0.45)
legend(ax, lt_handles(), ['Veh', 'Cinn'], 'upper right', (0.62, 0.985), spacing=0.35)
b1 = bar_facet((1092, 826, 1217, 1017), G2_base, G2_base_err, G2_base_n, G2_base_above, [BAR_RED] * 4,
               (-2, 61.7), [0, 20, 40, 60], G2_base_let, 56)
b1.text(1.5, 43, 'WT', fontsize=16, fontweight='bold', style='italic', ha='center', va='center')
let_y2 = [60.5 if c else 56 for c in G2_post_cinn]
bar_facet((1220, 826, 1344, 1017), G2_post, G2_post_err, G2_post_n, G2_post_above, [BAR_RED] * 8,
          (-2, 61.7), [0, 20, 40, 60], G2_post_let, let_y2, first=False)
# Mif row
m = strip(1092, 1021, 1217, 1036)
m.set_xlim(-0.6, 3.6)
for i, d in enumerate(mif_doses):
    m.text(i, 0.45, d, ha='center', va='center', fontsize=11.5, color=TXT, transform=m.get_xaxis_transform())
m = strip(1220, 1021, 1344, 1036)
m.set_xlim(-0.6, 7.6)
for i, d in enumerate(mif_doses):
    m.text(2 * i + 0.5, 0.45, d, ha='center', va='center', fontsize=11.5, color=TXT,
           transform=m.get_xaxis_transform())
# Cinn row
strip(1092, 1037, 1217, 1051, 'No treatment')
c = strip(1220, 1037, 1344, 1051)
c.set_xlim(-0.6, 7.6)
c.set_ylim(0, 1)
for i, cinn in enumerate(G2_post_cinn):
    if cinn:
        c.add_patch(Rectangle((i - 0.45, 0.04), 0.9, 0.92, color=TREAT, lw=0))
        c.text(i, 0.48, '+', ha='center', va='center', fontsize=11, color='#FBE3E3', fontweight='bold')
    else:
        c.text(i, 0.5, 'v', ha='center', va='center', fontsize=10.5, color=TXT)
strip(1092, 1052, 1217, 1067, 'Baseline')
strip(1220, 1052, 1344, 1067, 'Post-tx')
fig.text(1090 / W, 1 - 1028 / H, 'Mif(µM)', ha='right', va='center', fontsize=11.5, color=TXT)
fig.text(1090 / W, 1 - 1044 / H, 'Cinn', ha='right', va='center', fontsize=11.5, color='#D0353A')
panel_letter(688, 830, '(G)')

fig.savefig('out.png', dpi=100, facecolor='white')
